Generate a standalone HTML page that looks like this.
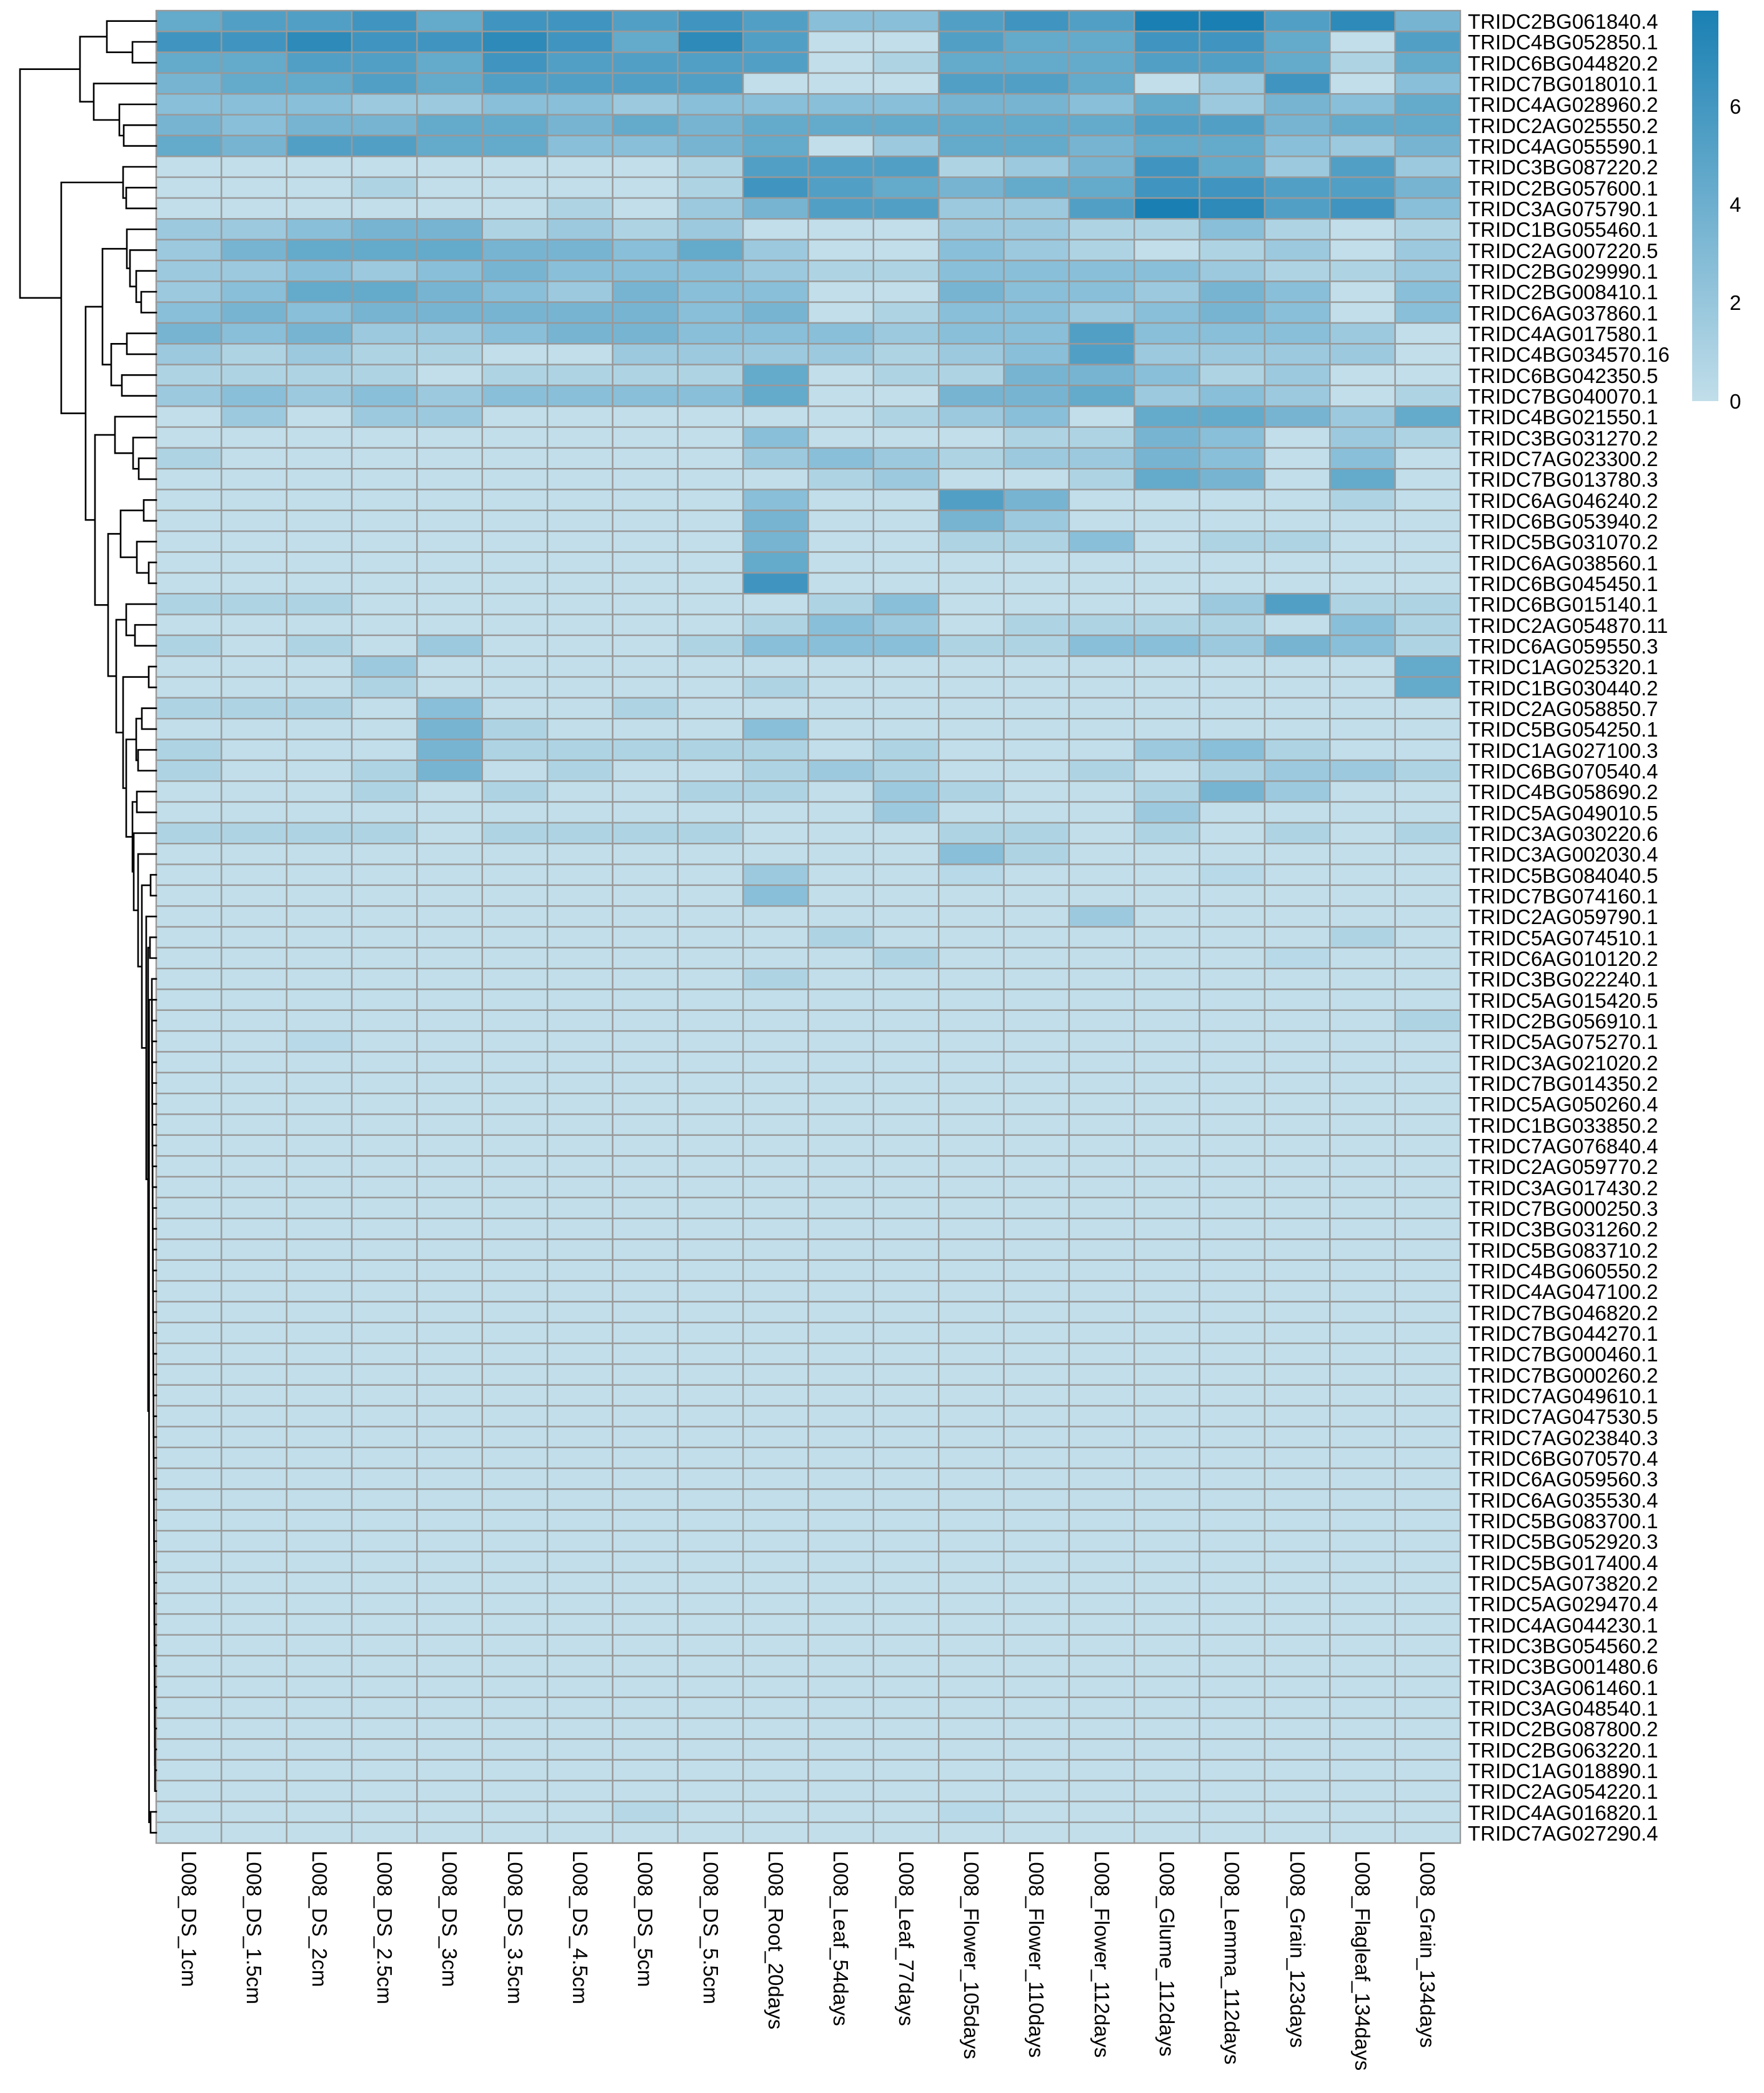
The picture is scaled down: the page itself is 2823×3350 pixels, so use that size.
<!DOCTYPE html>
<html><head><meta charset="utf-8"><style>
html,body{margin:0;padding:0;background:#fff;}
svg{display:block;}
text{font-family:"Liberation Sans",Arial,sans-serif;fill:#000;}
</style></head><body>
<svg id="s" width="2823" height="3350" viewBox="0 0 2823 3350" xmlns="http://www.w3.org/2000/svg">
<defs><linearGradient id="lg" x1="0" y1="1" x2="0" y2="0">
<stop offset="0" stop-color="#c1deea"/><stop offset="1" stop-color="#1a80b3"/></linearGradient></defs>
<g id="cells"></g>
<g id="dend" stroke="#000" stroke-width="2.6" fill="none" stroke-linecap="square"></g>
<g font-size="33" id="rl">
<text x="2349" y="46">TRIDC2BG061840.4</text>
<text x="2349" y="79">TRIDC4BG052850.1</text>
<text x="2349" y="113">TRIDC6BG044820.2</text>
<text x="2349" y="146">TRIDC7BG018010.1</text>
<text x="2349" y="179">TRIDC4AG028960.2</text>
<text x="2349" y="213">TRIDC2AG025550.2</text>
<text x="2349" y="246">TRIDC4AG055590.1</text>
<text x="2349" y="279">TRIDC3BG087220.2</text>
<text x="2349" y="313">TRIDC2BG057600.1</text>
<text x="2349" y="346">TRIDC3AG075790.1</text>
<text x="2349" y="379">TRIDC1BG055460.1</text>
<text x="2349" y="413">TRIDC2AG007220.5</text>
<text x="2349" y="446">TRIDC2BG029990.1</text>
<text x="2349" y="479">TRIDC2BG008410.1</text>
<text x="2349" y="513">TRIDC6AG037860.1</text>
<text x="2349" y="546">TRIDC4AG017580.1</text>
<text x="2349" y="579">TRIDC4BG034570.16</text>
<text x="2349" y="613">TRIDC6BG042350.5</text>
<text x="2349" y="646">TRIDC7BG040070.1</text>
<text x="2349" y="679">TRIDC4BG021550.1</text>
<text x="2349" y="713">TRIDC3BG031270.2</text>
<text x="2349" y="746">TRIDC7AG023300.2</text>
<text x="2349" y="779">TRIDC7BG013780.3</text>
<text x="2349" y="813">TRIDC6AG046240.2</text>
<text x="2349" y="846">TRIDC6BG053940.2</text>
<text x="2349" y="879">TRIDC5BG031070.2</text>
<text x="2349" y="913">TRIDC6AG038560.1</text>
<text x="2349" y="946">TRIDC6BG045450.1</text>
<text x="2349" y="979">TRIDC6BG015140.1</text>
<text x="2349" y="1013">TRIDC2AG054870.11</text>
<text x="2349" y="1046">TRIDC6AG059550.3</text>
<text x="2349" y="1079">TRIDC1AG025320.1</text>
<text x="2349" y="1113">TRIDC1BG030440.2</text>
<text x="2349" y="1146">TRIDC2AG058850.7</text>
<text x="2349" y="1179">TRIDC5BG054250.1</text>
<text x="2349" y="1213">TRIDC1AG027100.3</text>
<text x="2349" y="1246">TRIDC6BG070540.4</text>
<text x="2349" y="1279">TRIDC4BG058690.2</text>
<text x="2349" y="1313">TRIDC5AG049010.5</text>
<text x="2349" y="1346">TRIDC3AG030220.6</text>
<text x="2349" y="1379">TRIDC3AG002030.4</text>
<text x="2349" y="1413">TRIDC5BG084040.5</text>
<text x="2349" y="1446">TRIDC7BG074160.1</text>
<text x="2349" y="1479">TRIDC2AG059790.1</text>
<text x="2349" y="1513">TRIDC5AG074510.1</text>
<text x="2349" y="1546">TRIDC6AG010120.2</text>
<text x="2349" y="1579">TRIDC3BG022240.1</text>
<text x="2349" y="1613">TRIDC5AG015420.5</text>
<text x="2349" y="1646">TRIDC2BG056910.1</text>
<text x="2349" y="1679">TRIDC5AG075270.1</text>
<text x="2349" y="1713">TRIDC3AG021020.2</text>
<text x="2349" y="1746">TRIDC7BG014350.2</text>
<text x="2349" y="1779">TRIDC5AG050260.4</text>
<text x="2349" y="1813">TRIDC1BG033850.2</text>
<text x="2349" y="1846">TRIDC7AG076840.4</text>
<text x="2349" y="1879">TRIDC2AG059770.2</text>
<text x="2349" y="1913">TRIDC3AG017430.2</text>
<text x="2349" y="1946">TRIDC7BG000250.3</text>
<text x="2349" y="1979">TRIDC3BG031260.2</text>
<text x="2349" y="2013">TRIDC5BG083710.2</text>
<text x="2349" y="2046">TRIDC4BG060550.2</text>
<text x="2349" y="2079">TRIDC4AG047100.2</text>
<text x="2349" y="2113">TRIDC7BG046820.2</text>
<text x="2349" y="2146">TRIDC7BG044270.1</text>
<text x="2349" y="2179">TRIDC7BG000460.1</text>
<text x="2349" y="2213">TRIDC7BG000260.2</text>
<text x="2349" y="2246">TRIDC7AG049610.1</text>
<text x="2349" y="2279">TRIDC7AG047530.5</text>
<text x="2349" y="2313">TRIDC7AG023840.3</text>
<text x="2349" y="2346">TRIDC6BG070570.4</text>
<text x="2349" y="2379">TRIDC6AG059560.3</text>
<text x="2349" y="2413">TRIDC6AG035530.4</text>
<text x="2349" y="2446">TRIDC5BG083700.1</text>
<text x="2349" y="2479">TRIDC5BG052920.3</text>
<text x="2349" y="2513">TRIDC5BG017400.4</text>
<text x="2349" y="2546">TRIDC5AG073820.2</text>
<text x="2349" y="2579">TRIDC5AG029470.4</text>
<text x="2349" y="2613">TRIDC4AG044230.1</text>
<text x="2349" y="2646">TRIDC3BG054560.2</text>
<text x="2349" y="2679">TRIDC3BG001480.6</text>
<text x="2349" y="2713">TRIDC3AG061460.1</text>
<text x="2349" y="2746">TRIDC3AG048540.1</text>
<text x="2349" y="2779">TRIDC2BG087800.2</text>
<text x="2349" y="2813">TRIDC2BG063220.1</text>
<text x="2349" y="2846">TRIDC1AG018890.1</text>
<text x="2349" y="2879">TRIDC2AG054220.1</text>
<text x="2349" y="2913">TRIDC4AG016820.1</text>
<text x="2349" y="2946">TRIDC7AG027290.4</text>
</g>
<g font-size="33">
<text transform="translate(291,2962) rotate(90)">L008_DS_1cm</text>
<text transform="translate(395,2962) rotate(90)">L008_DS_1.5cm</text>
<text transform="translate(500,2962) rotate(90)">L008_DS_2cm</text>
<text transform="translate(604,2962) rotate(90)">L008_DS_2.5cm</text>
<text transform="translate(708,2962) rotate(90)">L008_DS_3cm</text>
<text transform="translate(813,2962) rotate(90)">L008_DS_3.5cm</text>
<text transform="translate(917,2962) rotate(90)">L008_DS_4.5cm</text>
<text transform="translate(1021,2962) rotate(90)">L008_DS_5cm</text>
<text transform="translate(1126,2962) rotate(90)">L008_DS_5.5cm</text>
<text transform="translate(1230,2962) rotate(90)">L008_Root_20days</text>
<text transform="translate(1334,2962) rotate(90)">L008_Leaf_54days</text>
<text transform="translate(1439,2962) rotate(90)">L008_Leaf_77days</text>
<text transform="translate(1543,2962) rotate(90)">L008_Flower_105days</text>
<text transform="translate(1647,2962) rotate(90)">L008_Flower_110days</text>
<text transform="translate(1752,2962) rotate(90)">L008_Flower_112days</text>
<text transform="translate(1856,2962) rotate(90)">L008_Glume_112days</text>
<text transform="translate(1960,2962) rotate(90)">L008_Lemma_112days</text>
<text transform="translate(2065,2962) rotate(90)">L008_Grain_123days</text>
<text transform="translate(2169,2962) rotate(90)">L008_Flagleaf_134days</text>
<text transform="translate(2273,2962) rotate(90)">L008_Grain_134days</text>
</g>
<rect x="2708" y="17" width="42" height="625" fill="url(#lg)"/>
<g font-size="33">
<text x="2768" y="182">6</text>
<text x="2768" y="339">4</text>
<text x="2768" y="496">2</text>
<text x="2768" y="654">0</text>
</g>
</svg>
<script>
(function(){
var NS="http://www.w3.org/2000/svg";
var L=250,T=17,CW=104.35,RH=33.33;
var V=[
[5,6,6,7,5,7,7,6,7,6,3,3,6,7,6,9,9,6,8,4],
[7,7,8,7,7,8,7,5,8,6,0,0,6,5,5,7,7,5,0,6],
[5,5,6,6,5,7,6,6,6,6,0,1,5,5,5,6,6,5,1,5],
[4,5,5,6,5,6,6,6,6,0,0,0,6,6,5,0,2,7,0,3],
[3,3,3,2,2,3,3,2,3,3,3,3,4,4,3,5,2,4,3,5],
[4,3,4,4,5,5,4,5,4,5,5,5,5,5,5,6,6,4,5,5],
[5,4,6,6,5,5,3,3,4,5,0,2,5,5,4,5,5,3,2,4],
[0,0,0,0,0,0,0,0,1,6,6,6,1,2,4,7,5,2,6,2],
[0,0,0,1,0,0,0,0,1,7,6,5,4,5,5,7,7,6,6,4],
[0,0,0,0,0,0,1,0,2,4,6,6,2,2,6,9,8,6,7,3],
[2,2,3,4,4,1,2,1,2,0,0,0,2,2,1,1,3,1,0,1],
[2,4,5,5,5,4,4,3,5,2,0,0,3,2,1,0,1,2,0,2],
[2,2,3,2,3,4,3,3,3,2,1,1,3,3,3,3,2,1,1,2],
[2,3,5,5,4,3,2,4,3,3,0,0,4,3,3,2,4,3,0,3],
[3,4,3,4,4,4,4,4,3,4,0,1,3,3,2,3,4,3,0,3],
[4,3,4,2,2,3,4,4,3,3,3,2,3,3,6,3,3,3,2,0],
[2,1,2,1,1,0,0,2,2,2,2,1,2,3,6,2,2,2,2,0],
[1,1,1,1,0,1,1,1,1,5,0,1,1,4,4,3,1,2,0,0],
[2,3,2,3,2,3,3,3,3,5,0,0,4,4,5,2,3,2,0,1],
[0,2,0,2,2,0,0,0,0,0,0,1,2,3,0,5,5,4,2,5],
[0,0,0,0,0,0,0,0,0,3,0,0,0,1,1,4,3,0,2,1],
[1,0,0,0,0,0,0,0,0,2,3,2,1,2,2,4,3,0,3,0],
[0,0,0,0,0,0,0,0,0,0,1,2,0,0,1,5,4,0,5,0],
[0,0,0,0,0,0,0,0,0,3,0,0,6,4,0,0,0,0,1,0],
[0,0,0,0,0,0,0,0,0,4,0,0,4,2,0,0,0,0,0,0],
[0,0,0,0,0,0,0,0,0,4,0,0,1,1,3,0,1,1,0,0],
[0,0,0,0,0,0,0,0,0,5,0,0,0,0,0,0,0,0,0,0],
[0,0,0,0,0,0,0,0,0,7,0,0,0,0,0,0,0,0,0,0],
[1,1,1,0,0,0,0,0,0,0,1,3,0,0,0,0,2,6,1,1],
[0,0,0,0,0,0,0,0,0,1,3,2,0,1,1,1,1,0,3,1],
[1,0,1,0,2,0,0,0,1,3,3,3,1,1,3,3,2,4,3,1],
[0,0,0,2,0,0,0,0,0,0,0,0,0,0,0,0,0,0,0,5],
[0,0,0,1,0,0,0,0,0,1,0,0,0,0,0,0,0,0,0,5],
[1,1,1,0,3,0,0,1,0,0,0,0,0,0,0,0,0,0,0,0],
[0,0,0,0,4,1,0,0,0,3,0,0,0,0,0,0,0,0,0,0],
[1,0,0,0,4,1,1,1,1,1,0,1,0,0,0,2,3,1,0,0],
[1,0,0,1,4,0,1,0,0,1,2,1,0,0,1,0,1,2,2,1],
[0,0,0,1,0,1,0,0,1,1,0,2,1,0,0,1,4,2,0,0],
[0,0,0,0,0,0,0,0,0,0,0,2,0,0,0,2,0,0,0,0],
[1,1,1,1,0,1,1,1,1,0,0,0,1,1,0,1,0,1,0,1],
[0,0,0,0,0,0,0,0,0,0,0,0,3,1,0,0,0,0,0,0],
[0,0,0,0,0,0,0,0,0,2,0,0,0.5,0,0,0,0.5,0,0,0],
[0,0,0,0,0,0,0,0,0,3,0,0,0,0,0,0,0,0,0,0],
[0,0,0,0,0,0,0,0,0,0,0,0,0,0,2,0,0,0,0,0]];
while(V.length<88){V.push([0,0,0,0,0,0,0,0,0,0,0,0,0,0,0,0,0,0,0,0]);}
V[44][10]=1;V[44][18]=1;V[45][11]=1;V[45][17]=0.5;V[46][9]=1;V[48][19]=1;V[49][2]=0.5;V[86][7]=0.6;V[86][12]=0.5;
var c0=[193,222,234],c1=[26,128,179];
function col(l){var t=l/9;var r=[0,1,2].map(function(i){return Math.round(c0[i]+(c1[i]-c0[i])*t);});return "rgb("+r.join(",")+")";}
var g=document.getElementById("cells");
for(var i=0;i<88;i++)for(var j=0;j<20;j++){
var r=document.createElementNS(NS,"rect");
r.setAttribute("x",(L+j*CW).toFixed(2));r.setAttribute("y",(T+i*RH).toFixed(2));
r.setAttribute("width",CW.toFixed(2));r.setAttribute("height",RH.toFixed(2));
r.setAttribute("fill",col(V[i][j]));r.setAttribute("stroke","#999");r.setAttribute("stroke-width","2.4");
g.appendChild(r);}
function cat(a,x0,x1){var t=[248,85,86];for(var k=84;k>=a;k--){var xx=x0+(x1-x0)*(k-a)/(84-a);t=[xx,k,t];}return t;}
var BIG=cat(47,243,248);
var TAIL=[238.5,BIG,[241,87,88]];
var Lower=[197,[238,32,33],[202,[218,[227,34,35],[221,36,37]],[212,[219,38,39],[214,40,[221,41,[227,[241,42,43],[234,44,[237,[240,45,46],TAIL]]]]]]]];
var C=[173,[193,[230,24,25],[219,26,[238,27,28]]],[186,[202,29,[216,30,31]],Lower]];
var X20=[184,20,[213,21,[222,22,23]]];
var B2a=[164,[203,11,[208,12,[218,13,[226,14,15]]]],[178,[203,16,17],[195,18,19]]];
var B=[98,[197,8,[202,9,10]],[137,B2a,[152,X20,C]]];
var A=[128,[171,1,[212,2,3]],[150,4,[191,5,[198,6,7]]]];
var root=[32,A,B];
var d=document.getElementById("dend");var p="";
function yr(i){return T+RH*(i-0.5);}
function draw(n){if(typeof n==="number")return {x:L,y:yr(n)};
var a=draw(n[1]),b=draw(n[2]),x=n[0];
p+="M"+a.x+","+a.y.toFixed(1)+"H"+x+"V"+b.y.toFixed(1)+"H"+b.x+" ";
return {x:x,y:(a.y+b.y)/2};}
draw(root);
var pa=document.createElementNS(NS,"path");pa.setAttribute("d",p);d.appendChild(pa);
})();
</script>
</body></html>
